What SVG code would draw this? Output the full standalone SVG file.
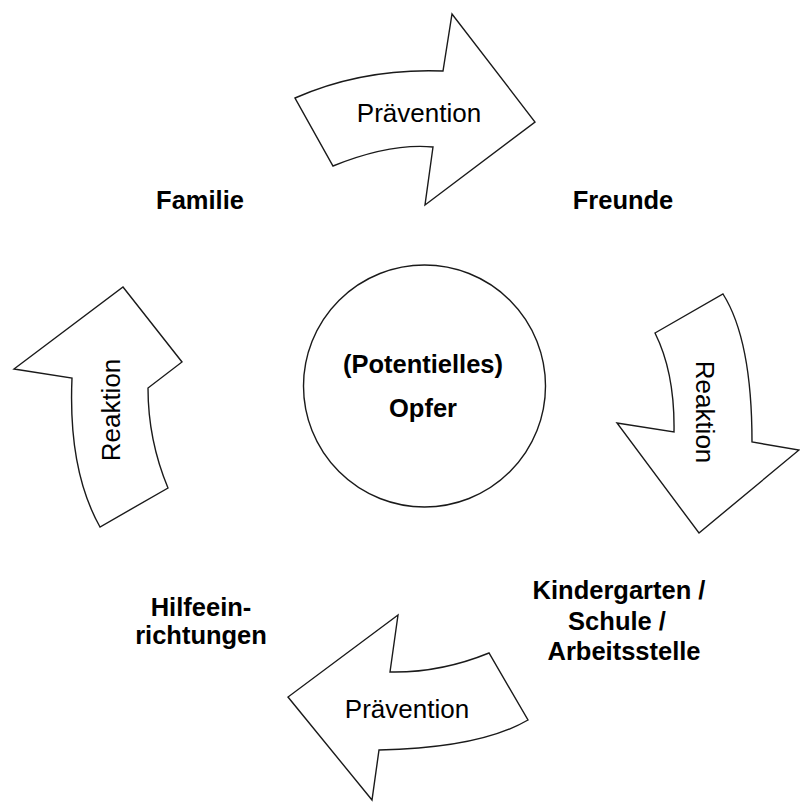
<svg xmlns="http://www.w3.org/2000/svg" width="800" height="802" viewBox="0 0 800 802">
<style>
.arrow{fill:#fff;stroke:#1a1a1a;stroke-width:1.4;stroke-linejoin:miter}
.reg{font-family:"Liberation Sans",Arial,sans-serif;font-size:26px;fill:#000;text-anchor:middle}
.bold{font-family:"Liberation Sans",Arial,sans-serif;font-size:25.5px;font-weight:bold;fill:#000;text-anchor:middle}
</style>
<rect width="800" height="802" fill="#fff"/>
<g id="connectors">
  <g id="arrow-top">
    <path class="arrow" d="M295,98 Q363,68 443,71 L452,14 L535,122 L425,205 L433,147 Q390,143 333,166 Z"/>
    <text class="reg" x="419" y="122">Prävention</text>
  </g>
  <g id="arrow-right">
    <path class="arrow" d="M655,333 L723,294 Q752,340 752,442 L799,450 L699,533 L617,423 L674,432 Q675,373 655,333 Z"/>
    <text class="reg" transform="translate(696,412) rotate(90)" x="0" y="0">Reaktion</text>
  </g>
  <g id="arrow-bottom">
    <path class="arrow" d="M398,615 L390,672 Q440,673 489,653 L528,720 Q480,748 379,750 L372,800 L288,697 Z"/>
    <text class="reg" x="407" y="718">Prävention</text>
  </g>
  <g id="arrow-left">
    <path class="arrow" d="M123,287 L182,362 L148,388 Q148,440 168,488 L100,527 Q68,470 72,378 L14,369 Z"/>
    <text class="reg" transform="translate(120,410) rotate(-90)" x="0" y="0">Reaktion</text>
  </g>
</g>
<g id="node-opfer">
  <circle cx="424.5" cy="386" r="121" fill="#fff" stroke="#1a1a1a" stroke-width="1.4"/>
  <text class="bold" x="423" y="373">(Potentielles)</text>
  <text class="bold" x="423" y="417">Opfer</text>
</g>
<g id="node-familie">
  <text class="bold" x="200" y="209">Familie</text>
</g>
<g id="node-freunde">
  <text class="bold" x="623" y="209">Freunde</text>
</g>
<g id="node-schule">
  <text class="bold" x="619" y="599">Kindergarten /</text>
  <text class="bold" x="617" y="630">Schule /</text>
  <text class="bold" x="624" y="660">Arbeitsstelle</text>
</g>
<g id="node-hilfe">
  <text class="bold" x="201" y="616">Hilfeein-</text>
  <text class="bold" x="201" y="644">richtungen</text>
</g>
</svg>
